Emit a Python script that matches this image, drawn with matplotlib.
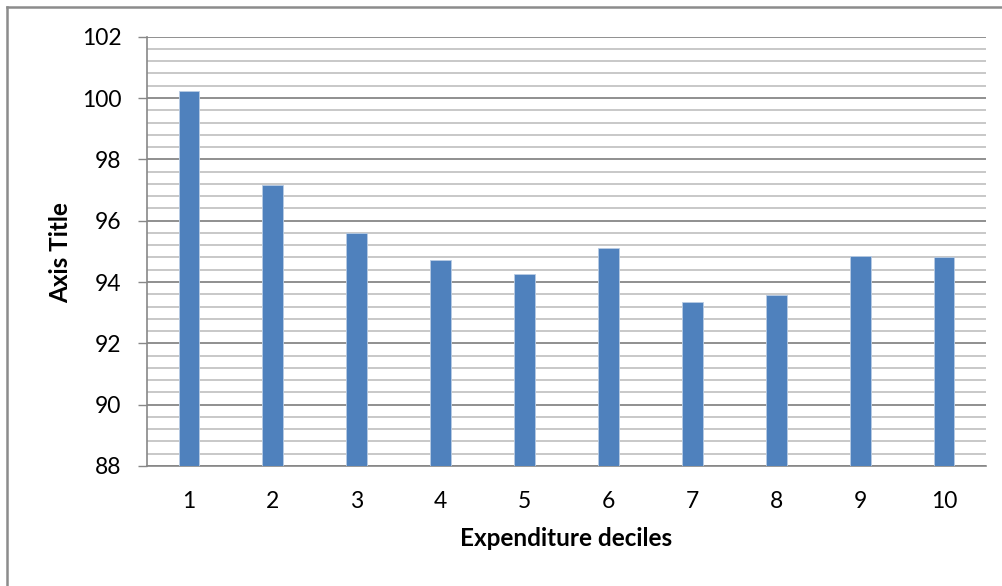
import matplotlib
matplotlib.use("Agg")
import matplotlib.pyplot as plt
from matplotlib.lines import Line2D
from matplotlib.ticker import MultipleLocator

plt.rcParams['font.family'] = ['Lato', 'DejaVu Sans']

# Data
deciles = [1, 2, 3, 4, 5, 6, 7, 8, 9, 10]
values = [100.23, 97.18, 95.60, 94.71, 94.25, 95.11, 93.36, 93.57, 94.85, 94.80]
x_title = "Expenditure deciles"
y_title = "Axis Title"

W, H = 1003, 586
fig = plt.figure(figsize=(W / 100, H / 100), dpi=100)
fig.patch.set_facecolor('white')

# chart-area frame (left and top edges visible)
fig.add_artist(Line2D([7 / W, 7 / W], [0, 1 - 7 / H], color='#8c8c8c', lw=1.8,
                      transform=fig.transFigure))
fig.add_artist(Line2D([7 / W, 1], [1 - 7 / H, 1 - 7 / H], color='#8c8c8c', lw=1.8,
                      transform=fig.transFigure))

ax = fig.add_axes([147 / W, 1 - 466 / H, (986 - 147) / W, (466 - 36.7) / H])

ax.bar(deciles, values, width=0.247, color='#4F81BD', edgecolor='#b8cce4',
       linewidth=0.6, zorder=3, bottom=0)
ax.set_xlim(0.5, 10.5)
ax.set_ylim(88, 102)

ax.yaxis.set_major_locator(MultipleLocator(2))
ax.yaxis.set_minor_locator(MultipleLocator(0.4))
ax.grid(which='major', axis='y', color='#878787', lw=1.3, zorder=1)
ax.grid(which='minor', axis='y', color='#c4c4c4', lw=1.3, zorder=1)

ax.set_xticks(deciles)
ax.set_xticklabels([str(d) for d in deciles])
ax.tick_params(axis='x', length=0, pad=18, labelsize=16.5)
ax.tick_params(axis='y', which='major', length=6.5, width=1, color='#878787',
               pad=12, labelsize=16.5, direction='out')
ax.tick_params(axis='y', which='minor', length=0)

for side in ['top', 'right']:
    ax.spines[side].set_visible(False)
ax.spines['left'].set_color('#878787')
ax.spines['bottom'].set_color('#878787')
ax.spines['left'].set_linewidth(1.2)
ax.spines['bottom'].set_linewidth(1.2)
ax.spines['left'].set_zorder(4)

fig.text(566.5 / W, 1 - 546.5 / H, x_title, ha='center', va='baseline',
         fontsize=17.5, fontweight='bold')
fig.text(61 / W, 1 - 253 / H, y_title, ha='center', va='center', rotation=90,
         fontsize=17.5, fontweight='bold')

fig.savefig('out.png', dpi=100)
